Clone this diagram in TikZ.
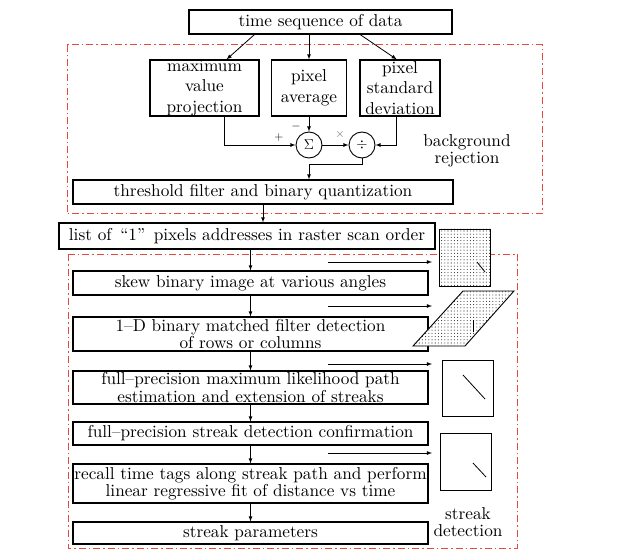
\documentclass[tikz,border=0pt]{standalone}
\usepackage{amsmath}
\usepackage{fontspec}
\setmainfont{lmroman10-regular}[Extension=.otf]
\usetikzlibrary{positioning,calc,patterns.meta}
\definecolor{framered}{RGB}{232,72,62}
\newcommand\boxfont{\fontsize{17.3}{17.5}\selectfont}
\newcommand\tallfont{\fontsize{17.3}{20.5}\selectfont}

\begin{document}
\begin{tikzpicture}[
  x=1bp, y=-1bp,
  >=latex,
  plain box/.style={
    draw,
    line width=1.1bp,
    inner sep=0pt,
    align=center,
    font=\boxfont,
  },
  tall box/.style={plain box, font=\tallfont},
  op circle/.style={
    draw,
    circle,
    line width=0.9bp,
    minimum size=26bp,
    inner sep=0pt,
    font=\fontsize{15}{15}\selectfont,
  },
  sign/.style={inner sep=0pt, font=\fontsize{13}{13}\selectfont},
  red frame/.style={
    draw=framered,
    line width=1bp,
    dash pattern=on 7bp off 3bp on 1.5bp off 3bp,
  },
  flow/.style={->, line width=0.8bp},
  shot/.style={draw, line width=0.9bp, preaction={fill=white}},
  dotted shot/.style={
    shot,
    pattern={Dots[distance=3.2bp, radius=0.55bp]},
    pattern color=black!80,
  },
  ]
  \useasboundingbox (0,0) rectangle (632,551);

  % dash-dot frames
  \draw[red frame] (67,45) rectangle (542,214);
  \draw[red frame] (68,254) rectangle (517,548);

  % background rejection
  \node[plain box, minimum width=263bp, minimum height=24bp] (data) at (320.5,22) {time sequence of data};
  \node[tall box, minimum width=109bp, minimum height=56bp] (maxproj) at (204.5,88) {maximum\\value\\projection};
  \node[tall box, minimum width=75bp, minimum height=56bp] (pixavg) at (309,88) {pixel\\average};
  \node[tall box, minimum width=80bp, minimum height=56bp] (pixstd) at (400,88) {pixel\\standard\\deviation};
  \node[op circle] (sum) at (309,145) {$\Sigma$};
  \node[op circle] (div) at (362,145) {$\div$};
  \node[plain box, minimum width=380bp, minimum height=24bp] (thresh) at (263,192) {threshold filter and binary quantization};
  \node[font=\boxfont, align=center] (bgtext) at (467,151) {background\\rejection};

  \node[sign] (plus) at (279,138) {$+$};
  \node[sign] (minus) at (296,127) {$-$};
  \node[sign, text=black!60] (times) at (340,135) {$\times$};

  \draw[flow] ($(data.south west)!0.25!(data.south east)$) -- ($(maxproj.north west)!0.7!(maxproj.north east)$);
  \draw[flow] (pixavg.north |- data.south) -- (pixavg.north);
  \draw[flow] ($(data.south west)!0.65!(data.south east)$) -- ($(pixstd.north west)!0.46!(pixstd.north east)$);
  \draw[flow] ($(maxproj.south west)!0.68!(maxproj.south east)$) |- (sum.west);
  \draw[flow] (pixavg.south) -- (sum.north);
  \draw[flow] (sum.east) -- (div.west);
  \draw[flow] ($(pixstd.south west)!0.46!(pixstd.south east)$) |- (div.east);
  \draw[flow] (div.south) -- ++(0,6) -| (thresh.north -| sum.south);

  % streak detection
  \node[plain box, minimum width=376bp, minimum height=26bp] (list) at (247,236) {list of \,“1”\, pixels addresses in raster scan order};
  \node[plain box, minimum width=355bp, minimum height=24bp] (skew) at (250.5,283) {skew binary image at various angles};
  \node[plain box, minimum width=355bp, minimum height=34bp] (match) at (250.5,334) {1--D binary matched filter detection\\of rows or columns};
  \node[plain box, minimum width=355bp, minimum height=33bp] (mle) at (250.5,387.5) {full--precision maximum likelihood path\\estimation and extension of streaks};
  \node[plain box, minimum width=355bp, minimum height=23bp] (confirm) at (250.5,433.5) {full--precision streak detection confirmation};
  \node[plain box, minimum width=355bp, minimum height=39bp] (recall) at (250.5,483.5) {recall time tags along streak path and perform\\linear regressive fit of distance vs time};
  \node[plain box, minimum width=355bp, minimum height=22bp] (params) at (250.5,533) {streak parameters};
  \node[font=\boxfont, align=center] (sdtext) at (468,522) {streak\\detection};

  \draw[flow] (thresh.south) -- (list.north -| thresh.south);
  \draw[flow] (list.south -| skew.north) -- (skew.north);
  \draw[flow] (skew.south) -- (match.north);
  \draw[flow] (match.south) -- (mle.north);
  \draw[flow] (mle.south) -- (confirm.north);
  \draw[flow] (confirm.south) -- (recall.north);
  \draw[flow] (recall.south) -- (params.north);

  % sketches of the image at each stage
  \draw[dotted shot] (439,229) rectangle (490,286);
  \draw[line width=0.8bp] (477,262) -- (485,272);
  \draw[dotted shot] (413,346) -- (465,346) -- (514,291) -- (463,291) -- cycle;
  \draw[line width=0.8bp] (473,320) -- (473,332);
  \draw[shot] (442,360) rectangle (493,416);
  \draw[line width=0.8bp] (463,375) -- (485,399);
  \draw[shot] (440,433) rectangle (491,490);
  \draw[line width=0.8bp] (473,463) -- (486,477);

  \coordinate (tap1) at (328,262);
  \coordinate (hit1) at (432,262);
  \coordinate (tap2) at (328,306);
  \coordinate (hit2) at (432,306);
  \coordinate (tap3) at (328,364);
  \coordinate (hit3) at (432,364);
  \coordinate (tap4) at (328,453);
  \coordinate (hit4) at (432,453);
  \draw[flow] (tap1) -- (hit1);
  \draw[flow] (tap2) -- (hit2);
  \draw[flow] (tap3) -- (hit3);
  \draw[flow] (tap4) -- (hit4);
\end{tikzpicture}
\end{document}
